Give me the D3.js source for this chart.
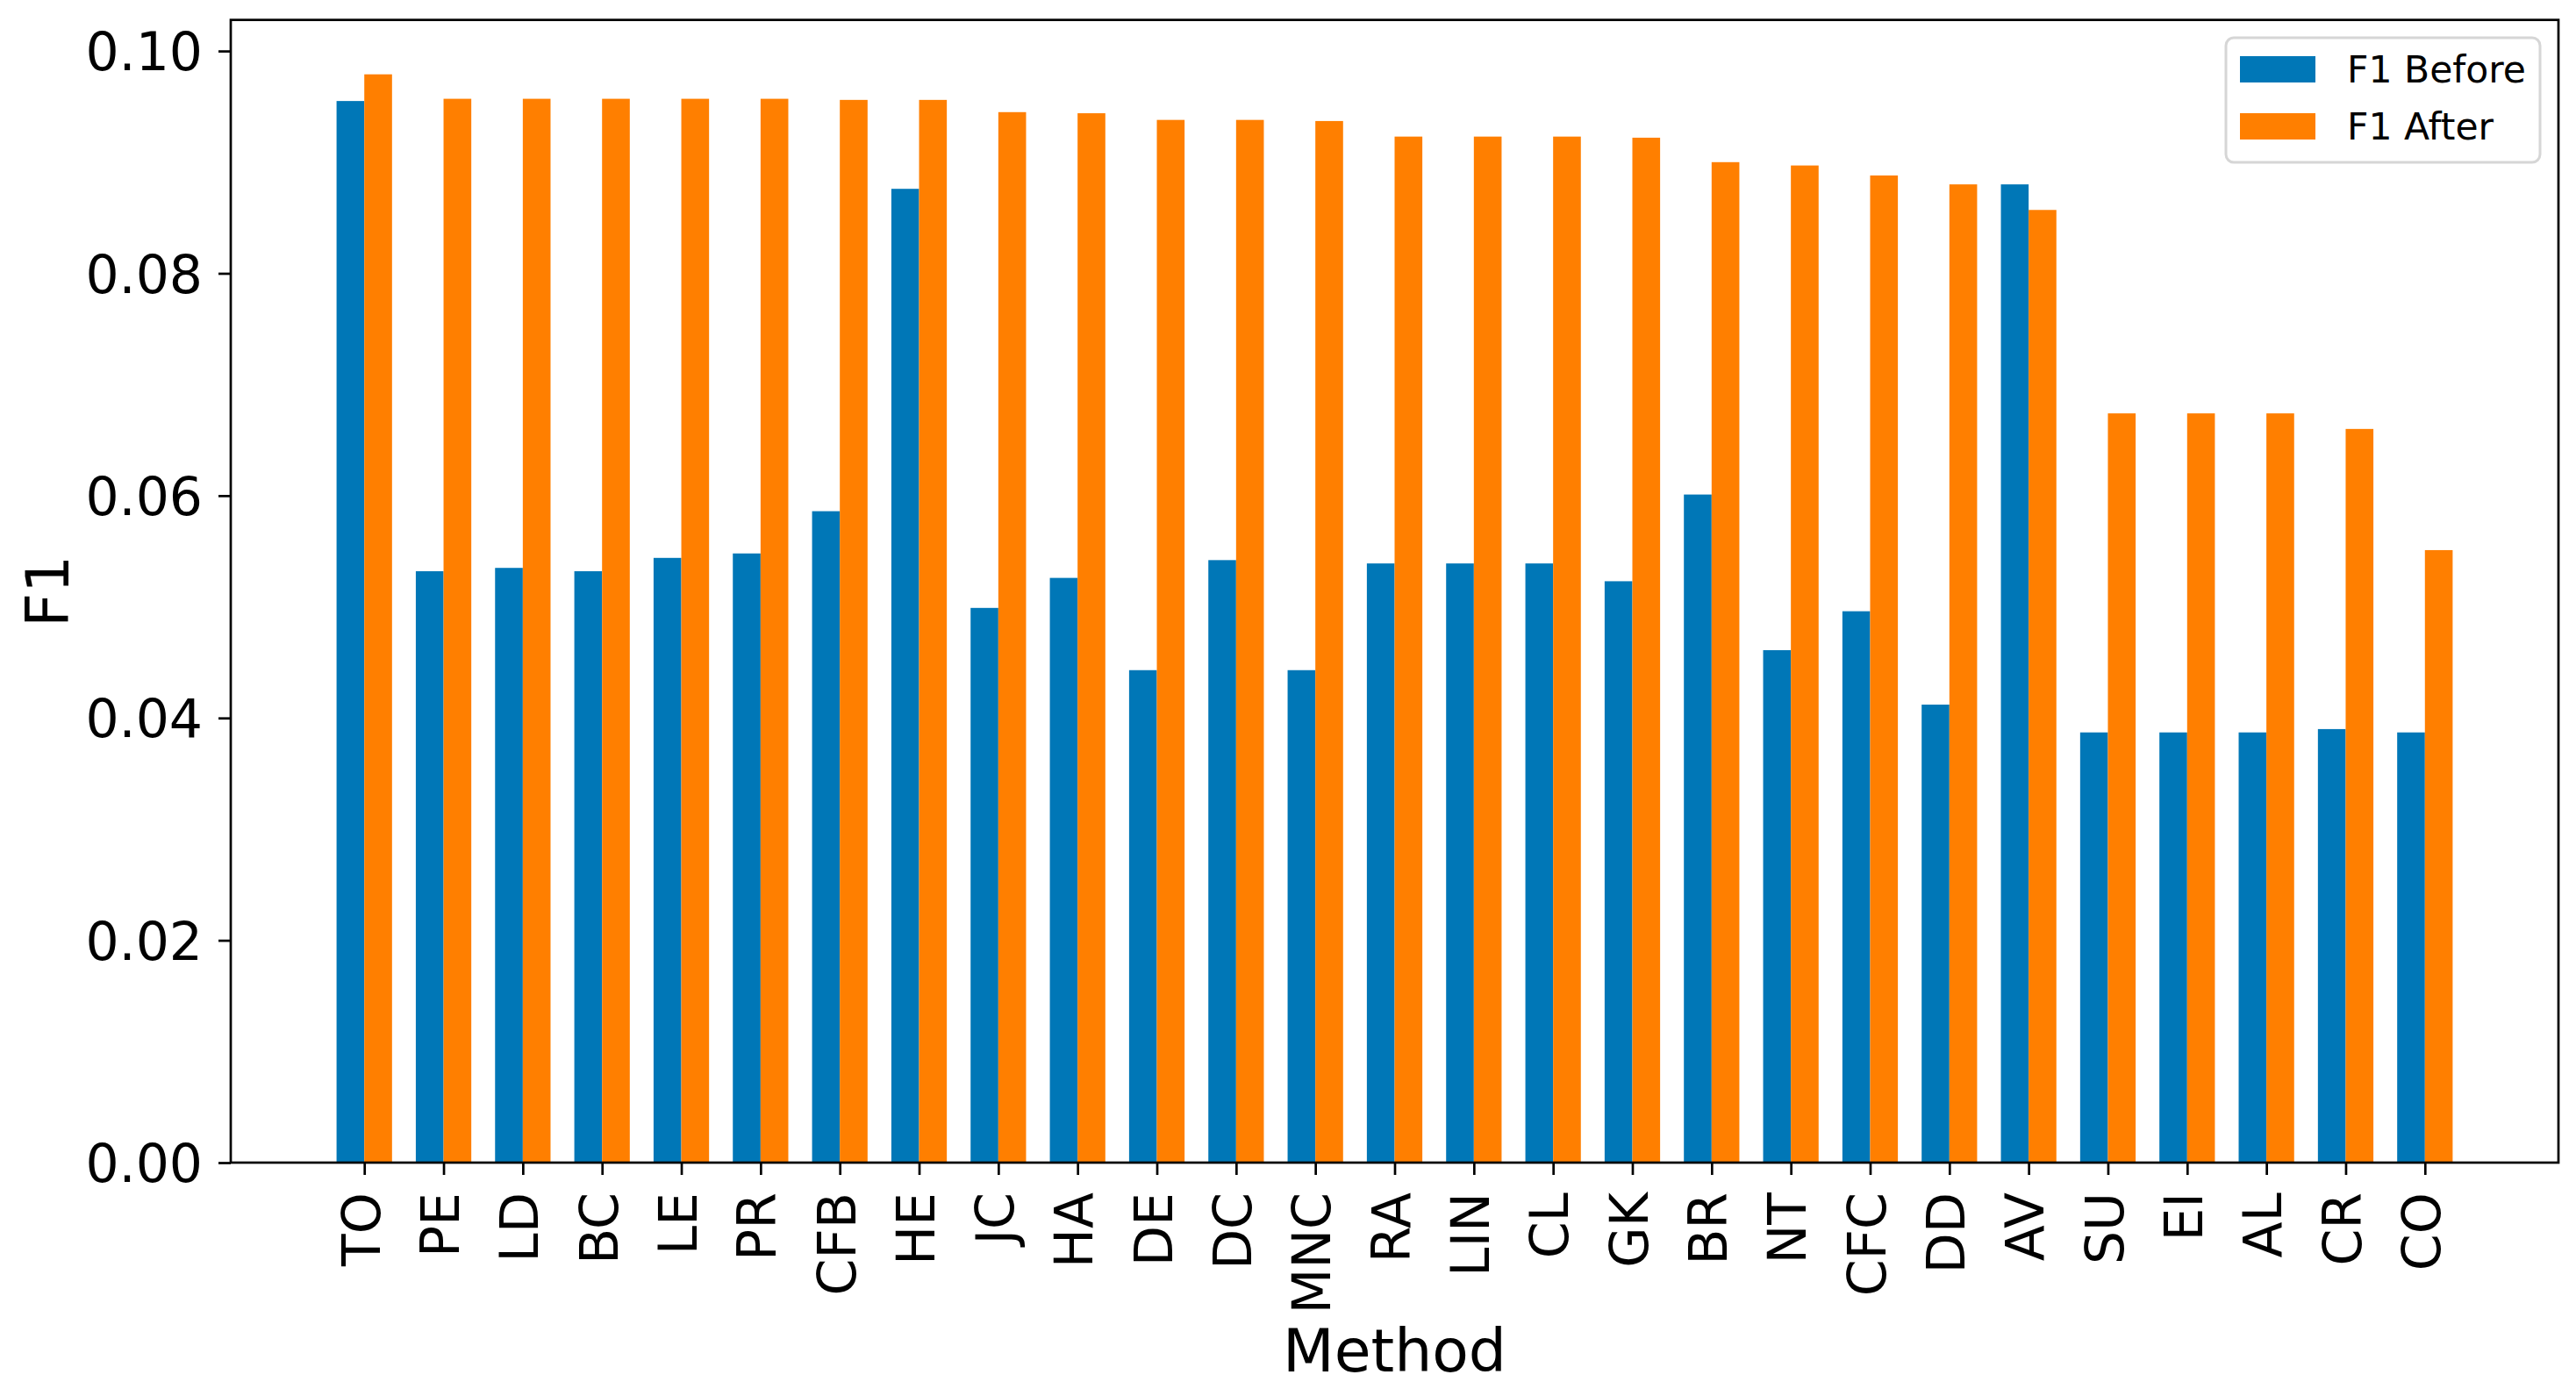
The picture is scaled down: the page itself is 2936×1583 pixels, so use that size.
<!DOCTYPE html>
<html>
<head>
<meta charset="utf-8">
<script src="https://cdn.jsdelivr.net/npm/d3@7"></script>
<style>
  html, body { margin: 0; padding: 0; background: #fff; }
  svg { display: block; font-family: "DejaVu Sans", sans-serif; }
</style>
</head>
<body>
<svg id="chart" width="2936" height="1583"></svg>
<script>
const methods = ["TO","PE","LD","BC","LE","PR","CFB","HE","JC","HA","DE","DC","MNC","RA","LIN","CL","GK","BR","NT","CFC","DD","AV","SU","EI","AL","CR","CO"];
const f1Before = [0.0955,0.0532,0.0535,0.0532,0.0544,0.0548,0.0586,0.0876,0.0499,0.0526,0.0443,0.0542,0.0443,0.0539,0.0539,0.0539,0.0523,0.0601,0.0461,0.0496,0.0412,0.0880,0.0387,0.0387,0.0387,0.0390,0.0387];
const f1After  = [0.0979,0.0957,0.0957,0.0957,0.0957,0.0957,0.0956,0.0956,0.0945,0.0944,0.0938,0.0938,0.0937,0.0923,0.0923,0.0923,0.0922,0.0900,0.0897,0.0888,0.0880,0.0857,0.0674,0.0674,0.0674,0.0660,0.0551];
const yTicks = [0.00,0.02,0.04,0.06,0.08,0.10];
const seriesNames = ["F1 Before","F1 After"];
const colors = ["#0077b7","#ff7f00"];

const svg = d3.select("#chart");
const L = 263, R = 2916, T = 22.7, B = 1325;
const barW = 0.35;
const n = methods.length;
const lo = -barW, hi = (n - 1) + barW, m = 0.05 * (hi - lo);
const x = d3.scaleLinear().domain([lo - m, hi + m]).range([L, R]);
const yMax = d3.max(f1After.concat(f1Before)) * 1.05;
const y = d3.scaleLinear().domain([0, yMax]).range([B, T]);

const series = [f1Before, f1After];
const offsets = [-barW/2, barW/2];
series.forEach((vals, s) => {
  svg.append("g").selectAll("rect").data(vals).join("rect")
    .attr("x", (d,i) => x(i + offsets[s] - barW/2))
    .attr("width", (d,i) => x(i + offsets[s] + barW/2) - x(i + offsets[s] - barW/2))
    .attr("y", d => y(d))
    .attr("height", d => y(0) - y(d))
    .attr("fill", colors[s]);
});

// axes
const tickLen = 14, sw = 2.7;
const yAxis = d3.axisLeft(y).tickValues(yTicks).tickFormat(d3.format(".2f")).tickSize(tickLen).tickPadding(18);
const gy = svg.append("g").attr("transform", `translate(${L},0)`).call(yAxis);
gy.select(".domain").remove();
gy.selectAll(".tick line").attr("stroke", "#000").attr("stroke-width", sw);
gy.selectAll(".tick text").attr("font-size", 60).attr("fill", "#000").attr("font-family", "DejaVu Sans").attr("dy", "0.36em");

const xAxis = d3.axisBottom(x).tickValues(d3.range(n)).tickFormat(i => methods[i]).tickSize(tickLen);
const gx = svg.append("g").attr("transform", `translate(0,${B})`).call(xAxis);
gx.select(".domain").remove();
gx.selectAll(".tick line").attr("stroke", "#000").attr("stroke-width", sw);
gx.selectAll(".tick text")
  .attr("font-size", 60).attr("fill", "#000").attr("font-family", "DejaVu Sans")
  .attr("y", 0).attr("dy", "0.28em")
  .attr("text-anchor", "end")
  .attr("transform", "translate(0,34) rotate(-90)");

// frame
svg.append("rect").attr("x", L).attr("y", T).attr("width", R - L).attr("height", B - T)
  .attr("fill", "none").attr("stroke", "#000").attr("stroke-width", sw);

// axis labels
svg.append("text").attr("x", (L + R) / 2).attr("y", 1563).attr("text-anchor", "middle")
  .attr("font-size", 68).text("Method");
svg.append("text").attr("transform", `translate(78,${(T + B) / 2}) rotate(-90)`).attr("text-anchor", "middle")
  .attr("font-size", 68).text("F1");

// legend
const lg = svg.append("g");
lg.append("rect").attr("x", 2537).attr("y", 43).attr("width", 358).attr("height", 142)
  .attr("rx", 9).attr("fill", "#fff").attr("fill-opacity", 0.8).attr("stroke", "#d6d6d6").attr("stroke-width", 3);
seriesNames.forEach((name, i) => {
  lg.append("rect").attr("x", 2553).attr("y", 64 + i * 65).attr("width", 86).attr("height", 30).attr("fill", colors[i]);
  lg.append("text").attr("x", 2675).attr("y", 94 + i * 64.5).attr("font-size", 42.5).attr("fill", "#000").text(name);
});
</script>
</body>
</html>
